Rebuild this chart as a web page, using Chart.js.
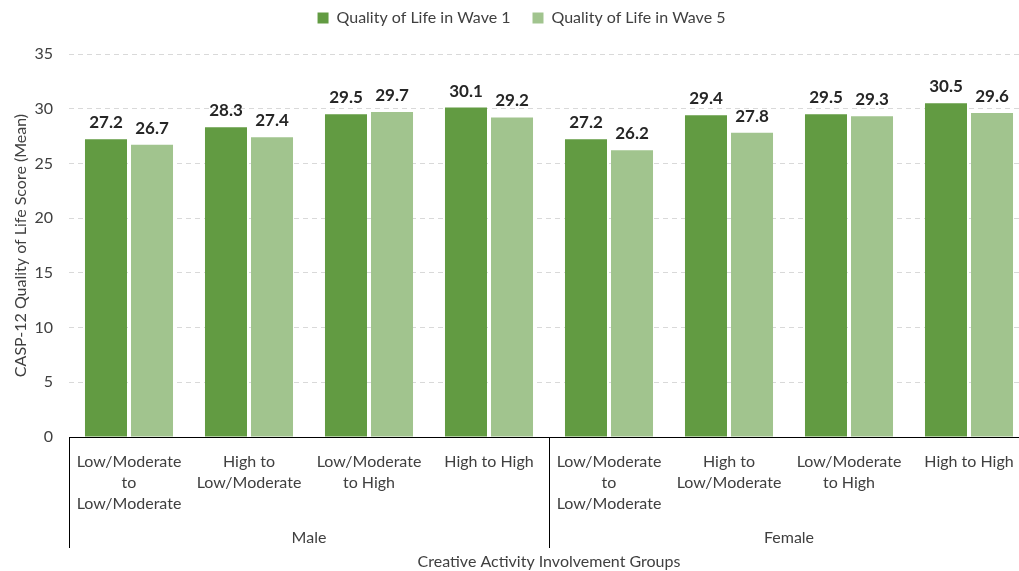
<!DOCTYPE html>
<html>
<head>
<meta charset="utf-8">
<script src="https://cdn.jsdelivr.net/npm/chart.js@4"></script>
<style>
html,body{margin:0;padding:0;background:#fff;overflow:hidden;width:1019px;height:571px;}
#wrap{position:absolute;left:0;top:0;width:1040px;height:571px;}
</style>
</head>
<body>
<div id="wrap"><canvas id="c" width="1040" height="571"></canvas></div>
<script>
const categories = [
  ['Low/Moderate','to','Low/Moderate'],
  ['High to','Low/Moderate'],
  ['Low/Moderate','to High'],
  ['High to High'],
  ['Low/Moderate','to','Low/Moderate'],
  ['High to','Low/Moderate'],
  ['Low/Moderate','to High'],
  ['High to High']
];
const groups = ['Male','Female'];
const groupSize = 4;
const wave1 = [27.2, 28.3, 29.5, 30.1, 27.2, 29.4, 29.5, 30.5];
const wave5 = [26.7, 27.4, 29.7, 29.2, 26.2, 27.8, 29.3, 29.6];
const seriesNames = ['Quality of Life in Wave 1','Quality of Life in Wave 5'];
const yTicks = [0,5,10,15,20,25,30,35];
const yTitle = 'CASP-12 Quality of Life Score (Mean)';
const xTitle = 'Creative Activity Involvement Groups';

const FONT = 'Lato, "Open Sans", sans-serif';
const TXT = '#404040';

const extras = {
  id: 'extras',
  beforeInit(chart) {
    const lg = chart.legend;
    if (lg) {
      const fit = lg.fit;
      lg.fit = function() { fit.call(this); this.height = 54; };
    }
  },
  afterLayout(chart) {
    const lg = chart.legend;
    if (lg) {
      lg.top -= 12; lg.bottom -= 12;
      lg.left += 7; lg.right += 7;
    }
  },
  afterDatasetsDraw(chart) {
    const ctx = chart.ctx;
    ctx.save();
    ctx.font = 'bold 17px ' + FONT;
    ctx.fillStyle = '#262626';
    ctx.textAlign = 'center';
    ctx.textBaseline = 'alphabetic';
    chart.data.datasets.forEach((ds, i) => {
      const meta = chart.getDatasetMeta(i);
      meta.data.forEach((bar, j) => {
        ctx.fillText(ds.data[j].toFixed(1), bar.x, bar.y - 11);
      });
    });
    ctx.restore();
  },
  afterDraw(chart) {
    const ctx = chart.ctx;
    const x = chart.scales.x;
    const area = chart.chartArea;
    const step = x.getPixelForValue(1) - x.getPixelForValue(0);
    ctx.save();
    ctx.strokeStyle = '#000';
    ctx.lineWidth = 1;
    const bottom = area.bottom + 111;
    for (let g = 0; g <= groups.length; g++) {
      const px = Math.round(x.getPixelForValue(g * groupSize) - step / 2) + 0.5;
      ctx.beginPath();
      ctx.moveTo(px, area.bottom);
      ctx.lineTo(px, bottom);
      ctx.stroke();
    }
    ctx.font = '16px ' + FONT;
    ctx.fillStyle = TXT;
    ctx.textAlign = 'center';
    ctx.textBaseline = 'middle';
    groups.forEach((g, i) => {
      const a = x.getPixelForValue(i * groupSize) - step / 2;
      const b = x.getPixelForValue(i * groupSize + groupSize - 1) + step / 2;
      ctx.fillText(g, (a + b) / 2, area.bottom + 101);
    });
    ctx.fillText(xTitle, 549, area.bottom + 125);
    ctx.restore();
  }
};

new Chart(document.getElementById('c'), {
  type: 'bar',
  data: {
    labels: categories,
    datasets: [
      { label: seriesNames[0], data: wave1, backgroundColor: '#629B42', borderWidth: 0,
        categoryPercentage: 0.767, barPercentage: 0.913 },
      { label: seriesNames[1], data: wave5, backgroundColor: '#A1C48E', borderWidth: 0,
        categoryPercentage: 0.767, barPercentage: 0.913 }
    ]
  },
  plugins: [extras],
  options: {
    responsive: false,
    animation: false,
    layout: { padding: { top: 0, left: 0, right: 11, bottom: 0 } },
    plugins: {
      legend: {
        position: 'top',
        labels: { font: { family: FONT, size: 16 }, color: TXT, boxWidth: 11, boxHeight: 11, padding: 22 }
      },
      tooltip: { enabled: false }
    },
    scales: {
      x: {
        grid: { display: false, drawTicks: false },
        border: { display: true, color: '#000', width: 1 },
        ticks: { font: { family: FONT, size: 16, lineHeight: 1.33 }, color: TXT, padding: 14, maxRotation: 0, autoSkip: false },
        afterFit(s) { s.height = 134; }
      },
      y: {
        min: 0, max: 35,
        afterBuildTicks(s) { s.ticks = yTicks.map(v => ({ value: v })); },
        grid: { color: '#d9d9d9', drawTicks: false },
        border: { display: false, dash: [5, 4] },
        ticks: { font: { family: FONT, size: 16 }, color: TXT, padding: 16 },
        title: { display: true, text: yTitle, font: { family: FONT, size: 16 }, color: TXT, padding: { top: 11, bottom: 0 } },
        afterFit(s) { s.width = 69; }
      }
    }
  }
});
</script>
</body>
</html>
